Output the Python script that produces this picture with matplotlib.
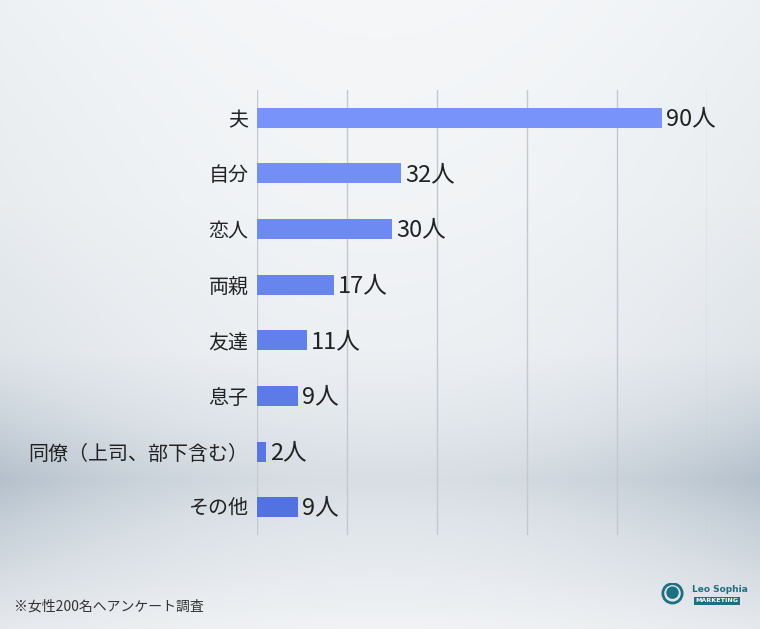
import matplotlib.pyplot as plt
import numpy as np
from matplotlib.colors import LinearSegmentedColormap

plt.rcParams['font.family'] = ['Noto Sans CJK JP', 'DejaVu Sans']

categories = ["夫", "自分", "恋人", "両親", "友達", "息子", "同僚（上司、部下含む）", "その他"]
values = [90, 32, 30, 17, 11, 9, 2, 9]
value_labels = ["90人", "32人", "30人", "17人", "11人", "9人", "2人", "9人"]
x_ticks = [0, 20, 40, 60, 80, 100]
footnote = "※女性200名へアンケート調査"

fig = plt.figure(figsize=(7.6, 6.29), dpi=100)

# background gradient
bg = fig.add_axes([0, 0, 1, 1], zorder=-10)
stops_y = np.array([0, 200, 350, 420, 480, 520, 600, 629]) / 629
edge = np.array([[238, 241, 244], [232, 236, 239], [223, 228, 233], [203, 212, 220],
                 [180, 192, 203], [196, 206, 215], [221, 226, 231], [230, 233, 237]]) / 255
yy = np.linspace(0, 1, 629)
col = np.stack([np.interp(yy, stops_y, edge[:, c]) for c in range(3)], axis=1)
xx = np.linspace(-1, 1, 760)
w = 0.5 * (1 - xx ** 2)  # lighter in the middle
light = np.array([0.985, 0.988, 0.992])
img = col[:, None, :] * (1 - w[None, :, None]) + light * w[None, :, None]
bg.imshow(img, aspect='auto', extent=[0, 1, 0, 1])
bg.axis('off')

ax = fig.add_axes([257 / 760, 1 - 535 / 629, 450 / 760, 445 / 629])
ax.patch.set_alpha(0)
y = np.arange(len(categories))
cmap = LinearSegmentedColormap.from_list("b", ["#7893f9", "#5272e0"])
colors = [cmap(i / (len(categories) - 1)) for i in range(len(categories))]
ax.barh(y, values, height=0.36, color=colors, zorder=3)
for yi, v, lab in zip(y, values, value_labels):
    ax.text(v + 0.9, yi + 0.02, lab, va='center', ha='left', fontsize=17, color='#222222')

ax.set_xlim(0, 100)
ax.set_ylim(len(categories) - 0.5, -0.5)
ax.set_xticks(x_ticks)
ax.set_xticklabels([])
ax.set_yticks(y)
ax.set_yticklabels(categories, fontsize=14.4, color='#222222')
ax.tick_params(length=0, pad=6)
ax.grid(axis='x', color='#c4c8cf', linewidth=1)
ax.set_axisbelow(True)
for s in ax.spines.values():
    s.set_visible(False)

fig.text(14 / 760, 1 - 607 / 629, footnote, fontsize=10, va='center', ha='left', color='#333333')

# logo
fig.text(692 / 760, 1 - 590 / 629, "Leo Sophia", fontsize=6.5, fontweight='bold',
         color='#1f6f82', family='DejaVu Sans', va='center', ha='left')
fig.text(717 / 760, 1 - 601 / 629, "MARKETING", fontsize=4.6, fontweight='bold',
         color='white', family='DejaVu Sans', va='center', ha='center',
         bbox=dict(boxstyle='square,pad=0.3', fc='#1f6f82', ec='none'))
logo = fig.add_axes([661 / 760, 1 - 606 / 629, 23 / 760, 23 / 629])
logo.add_patch(plt.Circle((0.5, 0.55), 0.42, fill=False, ec='#1f6f82', lw=2))
logo.add_patch(plt.Circle((0.5, 0.58), 0.24, color='#1f6f82'))
logo.set_xlim(0, 1)
logo.set_ylim(0, 1)
logo.axis('off')

fig.savefig("out.png", dpi=100)
